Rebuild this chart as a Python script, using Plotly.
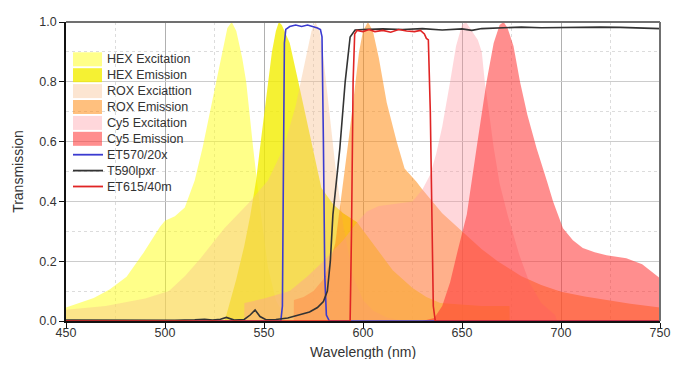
import plotly.graph_objects as go

# ---------------- data ----------------
hex_exc_x = [450, 464, 472, 480.6, 489, 494, 497.5, 500, 505, 510, 515, 519, 523, 526, 529, 531.5, 533.7, 536, 539, 541, 544.5, 548, 552, 556, 560, 565]
hex_exc_y = [0.045, 0.077, 0.105, 0.148, 0.227, 0.28, 0.315, 0.335, 0.35, 0.38, 0.47, 0.58, 0.71, 0.80, 0.91, 0.98, 1.0, 0.97, 0.88, 0.80, 0.58, 0.38, 0.18, 0.07, 0.02, 0.0]

hex_em_x = [530, 531, 536, 540, 543, 546, 548, 550, 552, 554, 556, 557.5, 559, 561, 563, 567, 571, 575, 579, 585, 590, 597, 605, 615, 625, 632, 639, 650, 660, 674, 674.1]
hex_em_y = [0.0, 0.02, 0.14, 0.25, 0.35, 0.47, 0.58, 0.69, 0.80, 0.90, 0.97, 1.0, 0.99, 0.96, 0.93, 0.81, 0.69, 0.56, 0.445, 0.39, 0.36, 0.33, 0.26, 0.17, 0.11, 0.08, 0.06, 0.055, 0.05, 0.05, 0.0]

rox_exc_x = [450, 470, 490, 502, 510, 518, 530, 543, 552, 560, 566, 571, 574, 576, 578, 580, 583, 586, 590, 595, 600, 605, 612, 620]
rox_exc_y = [0.038, 0.05, 0.075, 0.10, 0.15, 0.21, 0.31, 0.40, 0.47, 0.58, 0.72, 0.88, 0.97, 1.0, 0.97, 0.88, 0.70, 0.52, 0.32, 0.15, 0.07, 0.035, 0.012, 0.0]

rox_em_x = [565, 565.1, 570, 575, 580, 583, 586, 588, 591, 593, 595, 598, 600, 602.5, 605, 608, 612, 617, 621, 627, 630, 640, 650, 660, 668, 680, 690, 700, 712, 723, 735, 750]
rox_em_y = [0.0, 0.07, 0.08, 0.10, 0.14, 0.19, 0.26, 0.36, 0.51, 0.62, 0.73, 0.90, 0.97, 1.0, 0.97, 0.88, 0.73, 0.60, 0.51, 0.466, 0.44, 0.36, 0.30, 0.24, 0.20, 0.15, 0.12, 0.098, 0.082, 0.07, 0.058, 0.045]

cy5_exc_x = [540, 540.1, 550, 563, 572, 580, 590, 597, 602, 608, 614, 620, 625, 630, 634, 637, 640, 644, 647, 650, 652, 655, 658, 660, 661.5, 664, 666, 669, 673, 679, 684, 690, 697, 698]
cy5_exc_y = [0.0, 0.06, 0.075, 0.10, 0.15, 0.20, 0.27, 0.33, 0.366, 0.385, 0.39, 0.395, 0.40, 0.44, 0.49, 0.56, 0.65, 0.80, 0.92, 0.99, 1.0, 0.97, 0.94, 0.90, 0.80, 0.68, 0.58, 0.46, 0.355, 0.22, 0.13, 0.06, 0.02, 0.0]

cy5_em_x = [630, 636, 640, 644, 648, 652.4, 657.4, 662.4, 666, 669, 671, 673, 676, 679.3, 683, 687.7, 693, 696, 701, 706, 711, 717, 723, 733, 741, 750]
cy5_em_y = [0.0, 0.01, 0.05, 0.13, 0.24, 0.355, 0.58, 0.80, 0.93, 0.99, 1.0, 0.98, 0.92, 0.80, 0.69, 0.577, 0.466, 0.40, 0.31, 0.27, 0.244, 0.23, 0.22, 0.21, 0.19, 0.143]

et570_x = [450, 558.5, 559.3, 559.8, 560.3, 561, 563, 566, 569, 572, 575, 577, 578.5, 579.3, 580, 580.7, 581.5, 583, 750]
et570_y = [0.0, 0.0, 0.05, 0.5, 0.93, 0.975, 0.985, 0.99, 0.985, 0.99, 0.985, 0.98, 0.975, 0.95, 0.6, 0.15, 0.02, 0.0, 0.0]

t590_x = [450, 470, 490, 505, 515, 520, 524, 528, 531, 533, 535, 540, 543, 545.5, 548, 551, 556, 562, 568, 573, 577, 580, 582, 583.5, 584.8, 586.5, 588.3, 591, 593.5, 596, 600, 610, 620, 630, 640, 650, 655, 660, 670, 680, 690, 700, 710, 720, 730, 740, 750]
t590_y = [0.003, 0.002, 0.003, 0.002, 0.004, 0.006, 0.003, 0.006, 0.012, 0.008, 0.003, 0.005, 0.02, 0.037, 0.015, 0.004, 0.005, 0.01, 0.02, 0.03, 0.045, 0.065, 0.10, 0.2, 0.355, 0.47, 0.577, 0.80, 0.95, 0.973, 0.975, 0.977, 0.975, 0.978, 0.973, 0.977, 0.972, 0.978, 0.98, 0.983, 0.981, 0.982, 0.984, 0.983, 0.982, 0.981, 0.978]

et615_x = [450, 593.5, 594.2, 595, 595.8, 597, 600, 603, 606, 610, 614, 618, 622, 626, 629, 631, 632, 633, 634, 634.8, 635.5, 636.5, 750]
et615_y = [0.0, 0.0, 0.3, 0.8, 0.96, 0.972, 0.968, 0.975, 0.968, 0.972, 0.966, 0.975, 0.97, 0.968, 0.972, 0.96, 0.945, 0.94, 0.7, 0.3, 0.05, 0.0, 0.0]

x_ticks = [450, 500, 550, 600, 650, 700, 750]
y_ticks = [0.0, 0.2, 0.4, 0.6, 0.8, 1.0]

area_names = ["HEX Excitation", "HEX Emission", "ROX Exciattion", "ROX Emission", "Cy5 Excitation", "Cy5 Emission"]
line_names = ["ET570/20x", "T590lpxr", "ET615/40m"]

# ---------------- styles ----------------
area_colors = [
    "rgba(255,255,20,0.5)",
    "rgba(242,238,0,0.8)",
    "rgba(248,190,140,0.4)",
    "rgba(255,140,20,0.55)",
    "rgba(255,150,160,0.38)",
    "rgba(255,50,50,0.55)",
]
line_colors = ["#3b3bd0", "#333333", "#e02424"]

areas = [(hex_exc_x, hex_exc_y), (hex_em_x, hex_em_y), (rox_exc_x, rox_exc_y),
         (rox_em_x, rox_em_y), (cy5_exc_x, cy5_exc_y), (cy5_em_x, cy5_em_y)]
lines = [(et570_x, et570_y), (t590_x, t590_y), (et615_x, et615_y)]

FONT = "Liberation Sans, Arial, Helvetica, sans-serif"

fig = go.Figure()
for (xs, ys), name, col in zip(areas, area_names, area_colors):
    fig.add_trace(go.Scatter(x=xs, y=ys, name=name, mode="lines", fill="tozeroy",
                             fillcolor=col, line=dict(width=0, color=col),
                             showlegend=False, hoverinfo="x+y+name"))
for (xs, ys), name, col in zip(lines, line_names, line_colors):
    fig.add_trace(go.Scatter(x=xs, y=ys, name=name, mode="lines",
                             line=dict(width=1.6, color=col), showlegend=False))

# ---------------- plot geometry ----------------
# the page body has an 8px margin, so the figure is drawn 8px in from the corner
OFF = 8
W, H = 668, 351
L, R, T, B = 58, 16, 14, 38
pw, ph = W - L - R, H - T - B


def px2paper_x(px):  # px in window pixels
    return (px - OFF - L) / pw


def py2paper_y(py):  # py in window pixels
    return (H - B - (py - OFF)) / ph


# custom legend (compact rows like the reference)
shapes = []
annotations = []
row0, row_h = 59.3, 15.9
for i, (name, col) in enumerate(zip(area_names, area_colors)):
    yc = row0 + i * row_h
    shapes.append(dict(type="rect", xref="paper", yref="paper",
                       x0=px2paper_x(73), x1=px2paper_x(102),
                       y0=py2paper_y(yc + 7), y1=py2paper_y(yc - 7),
                       fillcolor=col, line=dict(width=0)))
    annotations.append(dict(text=name, xref="paper", yref="paper",
                            x=px2paper_x(105), y=py2paper_y(yc), xanchor="left",
                            yanchor="middle", showarrow=False,
                            font=dict(family=FONT, size=12.5, color="#333")))
for j, (name, col) in enumerate(zip(line_names, line_colors)):
    yc = row0 + (len(area_names) + j) * row_h
    shapes.append(dict(type="line", xref="paper", yref="paper",
                       x0=px2paper_x(73), x1=px2paper_x(103),
                       y0=py2paper_y(yc), y1=py2paper_y(yc),
                       line=dict(width=1.8, color=col)))
    annotations.append(dict(text=name, xref="paper", yref="paper",
                            x=px2paper_x(105), y=py2paper_y(yc), xanchor="left",
                            yanchor="middle", showarrow=False,
                            font=dict(family=FONT, size=12.5, color="#333")))

# x-axis title as a centred paper annotation under the tick labels
annotations.append(dict(text="Wavelength (nm)", xref="paper", yref="paper",
                        x=0.5, y=py2paper_y(352), xanchor="center", yanchor="middle",
                        showarrow=False, font=dict(family=FONT, size=14, color="#333")))

# top and right frame lines (gray)
shapes.append(dict(type="line", xref="paper", yref="paper", x0=0, x1=1, y0=1, y1=1,
                   line=dict(width=2, color="#707070")))
shapes.append(dict(type="line", xref="paper", yref="paper", x0=1, x1=1, y0=0, y1=1,
                   line=dict(width=2, color="#707070")))

fig.update_layout(
    width=W, height=H,
    margin=dict(l=L, r=R, t=T, b=B),
    paper_bgcolor="white", plot_bgcolor="white",
    font=dict(family=FONT, size=12.5, color="#333"),
    shapes=shapes, annotations=annotations,
    showlegend=False,
)
fig.update_xaxes(
    range=[450, 750], tickvals=x_ticks, ticks="outside", ticklen=5, tickcolor="#111",
    ticklabelstandoff=-6,
    showline=True, linecolor="#111", linewidth=1.5,
    showgrid=True, gridcolor="#b0b0b0", gridwidth=1,
    minor=dict(dtick=25, tick0=0, showgrid=True, gridcolor="#dcdcdc", griddash="dot", ticks=""),
    zeroline=False, tickfont=dict(size=12.5, color="#333"),
    automargin=False,
)
fig.update_yaxes(
    range=[0, 1.0], tickvals=y_ticks, tickformat=".1f", ticks="outside", ticklen=5,
    tickcolor="#111", showline=True, linecolor="#111", linewidth=1.5,
    showgrid=True, gridcolor="#cccccc", gridwidth=1,
    minor=dict(dtick=0.1, tick0=0, showgrid=True, gridcolor="#dcdcdc", griddash="dot", ticks=""),
    zeroline=False, tickfont=dict(size=12.5, color="#333"),
    title=dict(text="Transmission", font=dict(size=14, color="#333"), standoff=12),
    automargin=False,
)

fig.write_html("out.html")
